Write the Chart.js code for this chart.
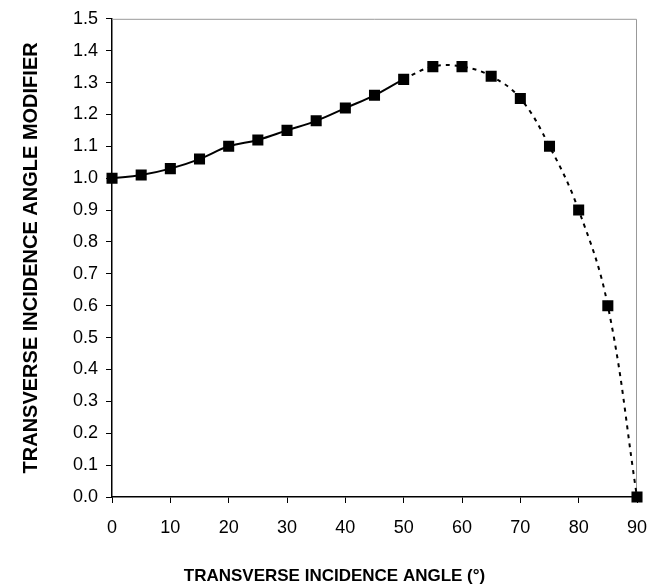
<!DOCTYPE html>
<html>
<head>
<meta charset="utf-8">
<script src="https://cdn.jsdelivr.net/npm/chart.js@4/dist/chart.umd.min.js"></script>
<style>
  html, body { margin: 0; padding: 0; background: #fff; }
  #wrap { width: 650px; height: 588px; }
</style>
</head>
<body>
<div id="wrap"><canvas id="iamChart"></canvas></div>
<script>
// transverse incidence angle (deg) and modifier values
const angles = [0, 5, 10, 15, 20, 25, 30, 35, 40, 45, 50, 55, 60, 65, 70, 75, 80, 85, 90];
const modifier = [1.00, 1.01, 1.03, 1.06, 1.10, 1.12, 1.15, 1.18, 1.22, 1.26, 1.31, 1.35, 1.35, 1.32, 1.25, 1.10, 0.90, 0.60, 0.00];
const dashedFrom = 50; // measured part ends here, the rest is dashed

const xTitle = 'TRANSVERSE INCIDENCE ANGLE (°)';
const yTitle = 'TRANSVERSE INCIDENCE ANGLE MODIFIER';

// gray frame on top and right of the plot area
const frame = {
    id: 'frame',
    beforeDatasetsDraw(chart) {
        const a = chart.chartArea;
        const c = chart.ctx;
        c.save();
        c.strokeStyle = '#999999';
        c.lineWidth = 1;
        c.beginPath();
        c.moveTo(a.left, a.top + 0.5);
        c.lineTo(a.right - 0.5, a.top + 0.5);
        c.lineTo(a.right - 0.5, a.bottom);
        c.stroke();
        c.restore();
    }
};

const ctx = document.getElementById('iamChart').getContext('2d');
const chart = new Chart(ctx, {
    type: 'line',
    data: {
        datasets: [{
            data: angles.map((a, i) => ({ x: a, y: modifier[i] })),
            borderColor: '#000',
            backgroundColor: '#000',
            borderWidth: 2,
            tension: 0.4,
            pointStyle: 'rect',
            pointRadius: 6.4,
            pointHoverRadius: 6.4,
            fill: false,
            clip: false,
            segment: {
                borderDash: c => c.p0.parsed.x >= dashedFrom ? [4, 5] : undefined
            }
        }]
    },
    plugins: [frame],
    options: {
        responsive: true,
        maintainAspectRatio: false,
        animation: false,
        layout: { padding: { left: 19, right: 0, top: 7, bottom: 1 } },
        plugins: {
            legend: { display: false },
            tooltip: { enabled: false },
            // x axis title is centred on the whole figure, like the original
            title: {
                display: true,
                position: 'bottom',
                text: xTitle,
                color: '#000',
                padding: { top: 14, bottom: 0 },
                font: { family: 'Liberation Sans, Arial', size: 17, weight: 'bold' }
            }
        },
        scales: {
            x: {
                type: 'linear',
                min: 0,
                max: 90,
                // tick padding would otherwise also widen the right margin
                afterFit: s => { s.paddingRight = 13; },
                ticks: {
                    stepSize: 10,
                    color: '#000',
                    padding: 14,
                    font: { family: 'Liberation Sans, Arial', size: 18 }
                },
                grid: { drawOnChartArea: false, tickLength: 6, color: '#000' },
                border: { color: '#000', width: 1.5 }
            },
            y: {
                min: 0,
                max: 1.5,
                ticks: {
                    stepSize: 0.1,
                    color: '#000',
                    padding: 8,
                    font: { family: 'Liberation Sans, Arial', size: 18 },
                    callback: v => Number(v).toFixed(1)
                },
                grid: { drawOnChartArea: false, tickLength: 6, color: '#000' },
                border: { color: '#000', width: 1.5 },
                title: {
                    display: true,
                    text: yTitle,
                    color: '#000',
                    padding: { top: 0, bottom: 22 },
                    font: { family: 'Liberation Sans, Arial', size: 20, weight: 'bold' }
                }
            }
        }
    }
});
</script>
</body>
</html>
